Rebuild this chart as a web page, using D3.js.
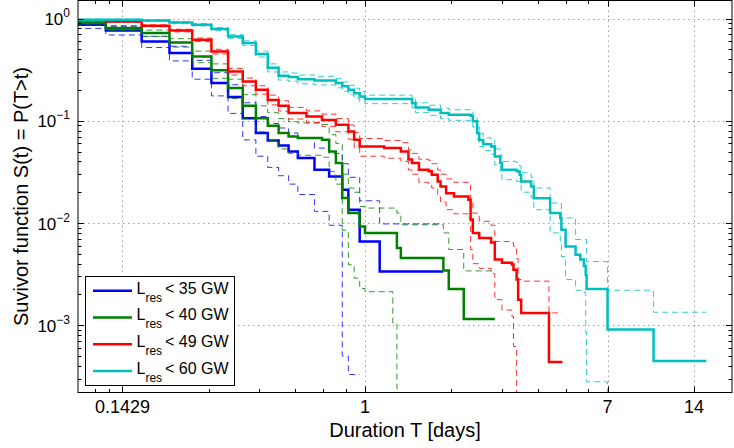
<!DOCTYPE html>
<html>
<head>
<meta charset="utf-8">
<script src="https://cdn.jsdelivr.net/npm/d3@7"></script>
<style>
  body { margin: 0; background: #fff; }
  text { font-family: "Liberation Sans", Arial, Helvetica, sans-serif; fill: #000; }
</style>
</head>
<body>
<svg id="chart" width="734" height="448"></svg>
<script>
// Kaplan-Meier survivor curves, step times in hours
// L_res < 35 GW
const hours35 = [2, 3, 4, 5, 6, 7, 8, 9, 10, 11, 12, 13, 14, 16, 18, 20, 21, 23, 27];
const surv35  = [0.868, 0.763, 0.596, 0.459, 0.322, 0.234, 0.171, 0.106, 0.0759, 0.0642, 0.0574, 0.0501, 0.0432, 0.0332, 0.0285, 0.0212, 0.0135, 0.0066, 0.00336];
const low35   = [0.80, 0.69, 0.52, 0.385, 0.255, 0.175, 0.118, 0.065, 0.045, 0.035, 0.029, 0.024, 0.019, 0.013, 0.0095, 0.0005, 0.00033, 0, 0];
const up35    = [0.93, 0.84, 0.67, 0.535, 0.39, 0.295, 0.225, 0.15, 0.11, 0.094, 0.085, 0.076, 0.067, 0.054, 0.048, 0.038, 0.028, 0.0165, 0.0098];
const end35 = 45;

// L_res < 40 GW
const hours40 = [2, 3, 4, 5, 6, 7, 8, 9, 10, 11, 12, 13, 14, 17, 18, 19, 20, 21, 22, 23, 24, 30, 31, 32, 45, 47, 53];
const surv40  = [0.902, 0.806, 0.72, 0.583, 0.425, 0.311, 0.209, 0.140, 0.106, 0.0893, 0.0759, 0.0703, 0.0677, 0.0651, 0.0501, 0.0386, 0.0176, 0.0125, 0.0125, 0.00927, 0.00798, 0.00798, 0.0057, 0.00455, 0.00344, 0.00226, 0.00115];
const low40   = [0.86, 0.76, 0.665, 0.525, 0.37, 0.26, 0.165, 0.105, 0.078, 0.064, 0.053, 0.048, 0.046, 0.044, 0.032, 0.024, 0.0085, 0.0039, 0.00289, 0.00229, 0.00213, 0.00105, 0.00024, 0, 0, 0, 0];
const up40    = [0.94, 0.85, 0.77, 0.635, 0.48, 0.36, 0.255, 0.18, 0.14, 0.12, 0.105, 0.098, 0.095, 0.092, 0.073, 0.060, 0.030, 0.022, 0.020, 0.0145, 0.014, 0.014, 0.0125, 0.0096, 0.008, 0.0055, 0.0034];
const end40 = 68;

// L_res < 49 GW
const hours49 = [2, 3, 4, 5, 6, 7, 8, 9, 10, 11, 12, 13, 15, 17, 19, 21, 22, 23, 28, 32, 34, 35, 37, 40, 41, 43, 44, 46, 49, 55, 56, 57, 60, 66, 68, 72, 78, 79, 81, 82, 84, 105];
const surv49  = [0.956, 0.935, 0.848, 0.763, 0.619, 0.476, 0.303, 0.242, 0.201, 0.160, 0.140, 0.119, 0.110, 0.102, 0.0915, 0.0786, 0.0651, 0.0560, 0.054, 0.050, 0.0417, 0.0386, 0.0332, 0.0320, 0.0297, 0.0255, 0.0228, 0.0196, 0.0182, 0.0169, 0.0108, 0.0080, 0.00713, 0.00643, 0.00439, 0.00408, 0.00393, 0.0035, 0.0028, 0.00178, 0.00132, 0.000438];
const low49   = [0.94, 0.92, 0.83, 0.74, 0.595, 0.45, 0.28, 0.22, 0.182, 0.143, 0.124, 0.104, 0.096, 0.088, 0.078, 0.066, 0.054, 0.045, 0.043, 0.040, 0.033, 0.030, 0.025, 0.024, 0.022, 0.018, 0.016, 0.0135, 0.0123, 0.0112, 0.0055, 0.0040, 0.0036, 0.0032, 0.00178, 0.00141, 0.00122, 0.00062, 0.00022, 0, 0, 0];
const up49    = [0.97, 0.95, 0.865, 0.785, 0.645, 0.50, 0.325, 0.262, 0.22, 0.178, 0.157, 0.135, 0.125, 0.116, 0.105, 0.091, 0.077, 0.067, 0.064, 0.061, 0.052, 0.048, 0.042, 0.041, 0.038, 0.033, 0.030, 0.027, 0.025, 0.0235, 0.016, 0.0125, 0.0104, 0.0095, 0.0066, 0.0066, 0.0064, 0.0059, 0.0045, 0.0028, 0.0027, 0.00132];
const end49 = 117;

// L_res < 60 GW
const hours60 = [2, 4, 5, 6, 7, 8, 9, 10, 11, 12, 13, 14, 16, 19, 20, 21, 22, 23, 24, 35, 36, 40, 44, 47, 56, 57, 59, 60, 62, 66, 68, 71, 72, 81, 83, 84, 91, 93, 106, 115, 116, 120, 130, 135, 139, 141, 142, 168, 243];
const surv60  = [0.971, 0.956, 0.914, 0.868, 0.788, 0.667, 0.575, 0.45, 0.33, 0.275, 0.268, 0.255, 0.248, 0.234, 0.217, 0.201, 0.186, 0.173, 0.163, 0.149, 0.135, 0.128, 0.119, 0.1145, 0.112, 0.099, 0.076, 0.065, 0.059, 0.056, 0.0448, 0.0386, 0.0332, 0.032, 0.0297, 0.0255, 0.0228, 0.0175, 0.0125, 0.0112, 0.0086, 0.0059, 0.0049, 0.0044, 0.0038, 0.0031, 0.00226, 0.00091, 0.000446];
const low60   = [0.955, 0.94, 0.89, 0.845, 0.76, 0.64, 0.545, 0.42, 0.30, 0.25, 0.243, 0.23, 0.224, 0.21, 0.194, 0.179, 0.165, 0.153, 0.147, 0.134, 0.12, 0.113, 0.105, 0.101, 0.099, 0.087, 0.066, 0.056, 0.051, 0.047, 0.037, 0.031, 0.0265, 0.0255, 0.0235, 0.0200, 0.0178, 0.0135, 0.008, 0.0065, 0.0047, 0.0028, 0.0022, 0.0022, 0.0021, 0.00085, 0.00028, 0.00015, 0];
const up60    = [0.985, 0.97, 0.935, 0.89, 0.815, 0.695, 0.605, 0.48, 0.36, 0.30, 0.293, 0.28, 0.272, 0.258, 0.24, 0.223, 0.208, 0.193, 0.178, 0.164, 0.15, 0.142, 0.133, 0.128, 0.125, 0.111, 0.087, 0.075, 0.068, 0.065, 0.053, 0.046, 0.040, 0.039, 0.036, 0.031, 0.028, 0.022, 0.0157, 0.0157, 0.0112, 0.0112, 0.0069, 0.0069, 0.0069, 0.0069, 0.0042, 0.0022, 0.00134];
const end60 = 371;

const seriesNames = ["35", "40", "49", "60"];
const seriesColors = ["#0000ff", "#008000", "#ff0000", "#00bfbf"];

// axis ticks (days)
const xMajor = [1 / 7, 1, 7, 14];
const xMajorLabels = ["0.1429", "1", "7", "14"];
const xMinor = [0.8 / 7, 0.9 / 7, 2 / 7, 3 / 7, 4 / 7, 5 / 7, 6 / 7, 2, 3, 4, 5, 6];
const yMajor = [1, 0.1, 0.01, 0.001];
const yMajorExp = ["0", "\u22121", "\u22122", "\u22123"];

const series = [
  { h: hours35, s: surv35, lo: low35, hi: up35, end: end35 },
  { h: hours40, s: surv40, lo: low40, hi: up40, end: end40 },
  { h: hours49, s: surv49, lo: low49, hi: up49, end: end49 },
  { h: hours60, s: surv60, lo: low60, hi: up60, end: end60 }
];

const plotL = 78, plotR = 732, plotT = 0.5, plotB = 392.5;

const svg = d3.select("#chart");

const x = d3.scaleLog().domain([0.1, 19]).range([plotL, plotR]);
const y = d3.scaleLog().domain([2.2e-4, 1.5]).range([plotB, plotT]);

svg.append("defs").append("clipPath").attr("id", "plot-clip")
  .append("rect")
  .attr("x", plotL).attr("y", plotT)
  .attr("width", plotR - plotL).attr("height", plotB - plotT);

// Grid
const grid = svg.append("g")
  .attr("stroke", "#a0a0a0")
  .attr("stroke-width", 1)
  .attr("stroke-dasharray", "1.5,3.5");

grid.selectAll("line.gx")
  .data(xMajor)
  .join("line")
  .attr("x1", d => Math.round(x(d)) + 0.5)
  .attr("x2", d => Math.round(x(d)) + 0.5)
  .attr("y1", plotT)
  .attr("y2", plotB);

grid.selectAll("line.gy")
  .data(yMajor)
  .join("line")
  .attr("y1", d => Math.round(y(d)) + 0.5)
  .attr("y2", d => Math.round(y(d)) + 0.5)
  .attr("x1", plotL)
  .attr("x2", plotR);

// Step curves
function stairs(hours, vals, endH) {
  const pts = [];
  hours.forEach((h, i) => {
    const next = i < hours.length - 1 ? hours[i + 1] : endH;
    pts.push([h / 24, vals[i]], [next / 24, vals[i]]);
  });
  return pts;
}

const line = d3.line()
  .defined(d => d[1] > 0)
  .x(d => x(d[0]))
  .y(d => y(d[1]));

const plot = svg.append("g").attr("clip-path", "url(#plot-clip)");

series.forEach((d, i) => {
  const g = plot.append("g");
  [d.lo, d.hi].forEach(b => {
    g.append("path")
      .attr("d", line(stairs(d.h, b, d.end)))
      .attr("fill", "none")
      .attr("stroke", seriesColors[i])
      .attr("stroke-width", 1)
      .attr("stroke-opacity", 0.8)
      .attr("stroke-dasharray", "6,4");
  });
  g.append("path")
    .attr("d", line(stairs(d.h, d.s, d.end)))
    .attr("fill", "none")
    .attr("stroke", seriesColors[i])
    .attr("stroke-width", 2.5)
    .attr("stroke-linejoin", "miter");
});

// Axes frame
svg.append("rect")
  .attr("x", plotL).attr("y", plotT)
  .attr("width", plotR - plotL).attr("height", plotB - plotT)
  .attr("fill", "none")
  .attr("stroke", "#000")
  .attr("stroke-width", 1);

// Ticks on all four sides
const ticks = svg.append("g").attr("stroke", "#000").attr("stroke-width", 1);
const xTicks = xMajor.map(v => [v, 6]).concat(xMinor.map(v => [v, 3.5]));
xTicks.forEach(([v, len]) => {
  const px = Math.round(x(v)) + 0.5;
  ticks.append("line").attr("x1", px).attr("x2", px).attr("y1", plotB).attr("y2", plotB - len);
  ticks.append("line").attr("x1", px).attr("x2", px).attr("y1", plotT).attr("y2", plotT + len);
});

const yMinor = [];
[1e-4, 1e-3, 1e-2, 1e-1, 1].forEach(dec => {
  for (let k = 2; k <= 9; k++) {
    const v = dec * k;
    if (v > y.domain()[0] && v < y.domain()[1]) yMinor.push(v);
  }
});
const yTicks = yMajor.map(v => [v, 6]).concat(yMinor.map(v => [v, 3.5]));
yTicks.forEach(([v, len]) => {
  const py = Math.round(y(v)) + 0.5;
  ticks.append("line").attr("y1", py).attr("y2", py).attr("x1", plotL).attr("x2", plotL + len);
  ticks.append("line").attr("y1", py).attr("y2", py).attr("x1", plotR).attr("x2", plotR - len);
});

// Tick labels
svg.append("g")
  .selectAll("text")
  .data(xMajor)
  .join("text")
  .attr("x", d => x(d))
  .attr("y", 413)
  .attr("text-anchor", "middle")
  .attr("font-size", 18)
  .text((d, i) => xMajorLabels[i]);

const yLab = svg.append("g")
  .selectAll("text")
  .data(yMajor)
  .join("text")
  .attr("x", 70)
  .attr("y", d => y(d) + 6.5)
  .attr("text-anchor", "end")
  .attr("font-size", 17);
yLab.append("tspan").text("10");
yLab.append("tspan")
  .attr("dy", -8)
  .attr("font-size", 12)
  .text((d, i) => yMajorExp[i]);

// Axis titles
svg.append("text")
  .attr("x", (plotL + plotR) / 2)
  .attr("y", 437)
  .attr("text-anchor", "middle")
  .attr("font-size", 20)
  .text("Duration T [days]");

svg.append("text")
  .attr("transform", `translate(28,${(plotT + plotB) / 2}) rotate(-90)`)
  .attr("text-anchor", "middle")
  .attr("font-size", 20)
  .text("Suvivor function S(t) = P(T>t)");

// Legend
const legend = svg.append("g");
legend.append("rect")
  .attr("x", 85.5).attr("y", 276.5)
  .attr("width", 149).attr("height", 109)
  .attr("fill", "#fff")
  .attr("stroke", "#000")
  .attr("stroke-width", 1);

const rows = legend.selectAll("g.row")
  .data(seriesNames)
  .join("g")
  .attr("transform", (d, i) => `translate(0,${290.7 + i * 26.8})`);

rows.append("line")
  .attr("x1", 93).attr("x2", 132)
  .attr("y1", 0).attr("y2", 0)
  .attr("stroke", (d, i) => seriesColors[i])
  .attr("stroke-width", 2.5);

const lt = rows.append("text")
  .attr("x", 136.5)
  .attr("y", 2.8)
  .attr("font-size", 16);
lt.append("tspan").text("L");
lt.append("tspan").attr("dy", 8).attr("font-size", 12).text("res");
lt.append("tspan").attr("dy", -8).attr("dx", 3).text(d => `< ${d} GW`);
</script>
</body>
</html>
